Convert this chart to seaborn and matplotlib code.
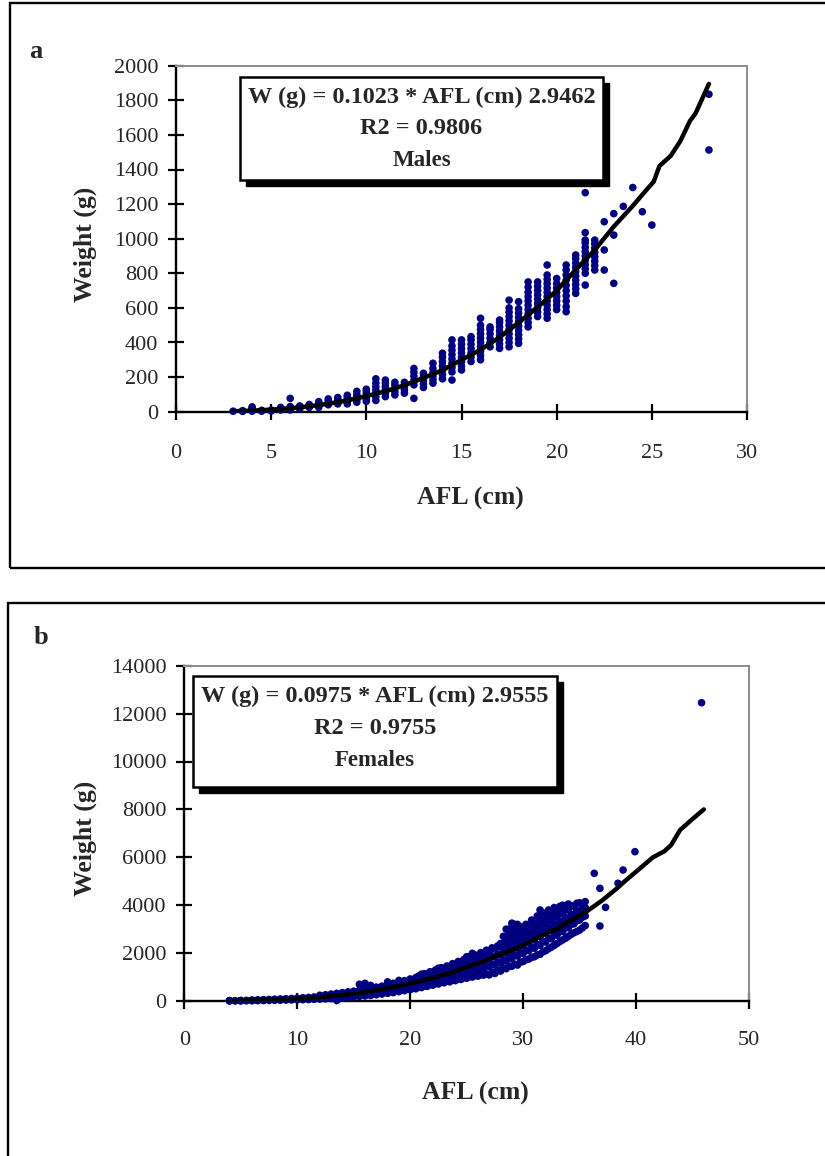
import matplotlib
matplotlib.use("Agg")
import matplotlib.pyplot as plt
from matplotlib.patches import Rectangle
import seaborn as sns
import pandas as pd

# ---------------- data ----------------
male_afl = [3, 3.5, 4, 4.5, 5, 5.5, 6, 6.5, 7, 7.5, 8, 8.5, 9, 9.5, 10, 10.5, 11, 11.5,
            12, 12.5, 13, 13.5, 14, 14.5, 15, 15.5, 16, 16.5, 17, 17.5, 18, 18.5, 19,
            19.5, 20, 20.5, 21, 21.5, 22, 22.5, 23, 23.5, 24, 24.5, 25, 28]
male_weights = [
    [3], [2, 6], [3, 12, 22, 28], [3, 8], [4, 10], [10, 17, 25], [10, 20, 30, 77],
    [15, 24, 33], [25, 33, 42], [25, 35, 47, 58], [40, 50, 62, 74], [45, 55, 68, 82],
    [45, 58, 72, 85, 95], [55, 70, 85, 100, 118], [60, 75, 90, 105, 120, 130],
    [65, 85, 105, 125, 145, 165, 190], [87, 105, 125, 145, 165, 183],
    [97, 115, 135, 155, 170], [107, 125, 145, 170], [77, 155, 180, 205, 228, 250],
    [140, 160, 180, 200, 222], [165, 185, 205, 225, 250, 280],
    [190, 215, 240, 265, 290, 315, 338], [183, 230, 255, 280, 305, 330, 355, 380, 415],
    [241, 265, 290, 315, 340, 365, 390, 415], [290, 315, 340, 365, 390, 415, 434],
    [300, 325, 350, 375, 400, 425, 450, 475, 500, 540], [375, 400, 425, 450, 475, 490],
    [366, 390, 415, 440, 465, 490, 515, 530],
    [375, 400, 425, 450, 475, 500, 525, 550, 575, 600, 645],
    [395, 420, 445, 470, 495, 520, 545, 570, 595, 636],
    [490, 515, 540, 565, 590, 615, 640, 665, 690, 720, 750],
    [550, 575, 600, 625, 650, 675, 700, 725, 750],
    [540, 565, 590, 615, 640, 665, 690, 715, 740, 765, 790, 848],
    [590, 615, 640, 665, 690, 715, 740, 770],
    [578, 607, 640, 670, 700, 730, 760, 790, 820, 848],
    [684, 710, 735, 760, 785, 810, 835, 860, 885, 906],
    [732, 800, 825, 850, 875, 900, 925, 950, 975, 992, 1035, 1266],
    [819, 845, 870, 895, 920, 945, 970, 992], [819, 935, 1098], [742, 1021, 1145],
    [1187], [1296], [1156], [1079], [1513, 1835]]

male_trend_afl = [3, 4, 5, 6, 7, 8, 9, 10, 11, 12, 13, 14, 15, 16, 17, 18, 19, 20, 21, 22,
                  23, 24, 24.7, 25.1, 25.4, 26, 26.5, 27, 27.3, 28]
male_trend_wt = [3, 6, 12, 20, 31, 46, 65, 90, 118, 153, 195, 240, 300, 358, 430, 515, 605,
                 700, 820, 935, 1070, 1190, 1280, 1330, 1420, 1480, 1565, 1680, 1725, 1895]

female_afl = [4, 4.5, 5, 5.5, 6, 6.5, 7, 7.5, 8, 8.5, 9, 9.5, 10, 10.5, 11, 11.5, 12, 12.5,
              13, 13.5, 14, 14.5, 15, 15.5, 16, 16.5, 17, 17.5, 18, 18.5, 19, 19.5, 20, 20.5,
              21, 21.5, 22, 22.5, 23, 23.5, 24, 24.5, 25, 25.5, 26, 26.5, 27, 27.5, 28, 28.5,
              29, 29.5, 30, 30.5, 31, 31.5, 32, 32.5, 33, 33.5, 34, 34.5, 35, 35.5, 36.3,
              36.8, 37.3, 38.4, 38.85, 39.9, 45.8]
female_weights = [
    [0, 10, 20], [5, 15], [5, 15, 25], [10, 25], [10, 25, 40], [15, 30, 50], [20, 35, 55],
    [25, 45, 65], [30, 50, 75], [35, 60, 85], [40, 65, 95], [45, 75, 105], [50, 85, 120],
    [55, 95, 135], [60, 105, 150], [70, 120, 170], [80, 135, 190, 240],
    [90, 150, 210, 260], [100, 165, 230, 290], [20, 120, 185, 250, 320],
    [130, 205, 275, 350], [150, 225, 300, 380], [170, 250, 330, 410],
    [190, 275, 360, 450, 700], [210, 300, 400, 500, 620, 740], [230, 330, 430, 540, 650],
    [260, 360, 470, 580], [290, 400, 510, 620], [320, 440, 560, 680, 800],
    [350, 480, 610, 740], [390, 520, 660, 800, 860], [430, 570, 710, 850],
    [470, 620, 770, 920], [510, 670, 830, 980], [560, 720, 890, 1050, 1120],
    [610, 780, 950, 1120], [660, 840, 1020, 1200], [710, 900, 1090, 1280, 1370],
    [760, 960, 1160, 1360], [800, 1020, 1230, 1440], [850, 1080, 1300, 1520],
    [900, 1140, 1380, 1620], [950, 1200, 1450, 1700, 1850],
    [1000, 1260, 1520, 1780, 1990], [1040, 1320, 1600, 1880], [1080, 1380, 1680, 1980],
    [1090, 1440, 1760, 2080], [1150, 1500, 1840, 2180], [1250, 1580, 1920, 2260, 2400],
    [1350, 1680, 2010, 2340, 2680, 3000], [1450, 1780, 2110, 2440, 2770, 3100, 3250],
    [1500, 1880, 2210, 2540, 2870, 3200], [1650, 1980, 2320, 2660, 3000],
    [1750, 2100, 2440, 2780, 3120], [1850, 2200, 2560, 2920, 3280],
    [1950, 2320, 2690, 3060, 3430, 3800], [2100, 2460, 2830, 3200, 3560],
    [2250, 2600, 2970, 3340, 3700], [2400, 2750, 3120, 3490, 3850],
    [2550, 2900, 3270, 3640, 4000], [2700, 3060, 3430, 3800, 4050],
    [2850, 3220, 3590, 3950], [2960, 3380, 3750, 4100], [3150, 3550, 3900, 4150],
    [5330], [3130, 4705], [3910], [4915], [5470], [6235], [12455]]

# second, interleaved set of female lengths (quarter-cm positions)
female_afl_q = [20.25, 20.75, 21.25, 21.75, 22.25, 22.75, 23.25, 23.75, 24.25, 24.75,
                25.25, 25.75, 26.25, 26.75, 27.25, 27.75, 28.25, 28.75, 29.25, 29.75,
                30.25, 30.75, 31.25, 31.75, 32.25, 32.75, 33.25, 33.75, 34.25, 34.75, 35.25]
female_weights_q = [
    [540, 700, 860], [590, 760, 930, 1040], [640, 810, 980, 1140], [690, 870, 1050, 1220],
    [740, 930, 1120, 1300], [790, 990, 1190, 1390], [830, 1050, 1260, 1460],
    [880, 1110, 1340, 1560], [930, 1170, 1410, 1650], [980, 1230, 1480, 1730],
    [1020, 1290, 1560, 1830], [1060, 1350, 1640, 1920], [1100, 1410, 1720, 2020],
    [1130, 1470, 1800, 2120], [1200, 1540, 1880, 2220], [1280, 1620, 1960, 2300],
    [1380, 1720, 2060, 2400, 2700], [1460, 1820, 2170, 2520, 2870],
    [1540, 1920, 2280, 2640, 2990, 3200], [1620, 2020, 2400, 2780, 3100],
    [1720, 2130, 2520, 2900, 3200], [1820, 2250, 2650, 3040, 3380],
    [1920, 2360, 2780, 3180, 3550], [2050, 2480, 2910, 3320, 3680],
    [2180, 2620, 3050, 3460, 3800], [2320, 2760, 3190, 3600, 3900],
    [2480, 2900, 3330, 3740, 3950], [2620, 3060, 3480, 3880], [2780, 3200, 3620, 3980],
    [2900, 3350, 3760, 4080], [3050, 3500, 3880]]

female_trend_afl = [4, 6, 8, 10, 12, 14, 16, 18, 20, 22, 23.5, 25, 26.5, 28, 29.4, 30,
                    31, 32.4, 33, 34, 35.6, 37, 38.3, 39, 40, 41.5, 42.5, 43.1, 43.9, 45, 46]
female_trend_wt = [6, 20, 45, 90, 160, 250, 370, 540, 730, 970, 1160, 1420, 1650, 1960,
                   2200, 2320, 2580, 2900, 3000, 3300, 3730, 4200, 4700, 5000, 5400, 6000,
                   6250, 6510, 7140, 7600, 8000]

y_ticks_a = [0, 200, 400, 600, 800, 1000, 1200, 1400, 1600, 1800, 2000]
x_ticks_a = [0, 5, 10, 15, 20, 25, 30]
y_ticks_b = [0, 2000, 4000, 6000, 8000, 10000, 12000, 14000]
x_ticks_b = [0, 10, 20, 30, 40, 50]

eq_a = ["W (g) = 0.1023 * AFL (cm) 2.9462", "R2 = 0.9806", "Males"]
eq_b = ["W (g) = 0.0975 * AFL (cm) 2.9555", "R2 = 0.9755", "Females"]

# ---------------- build tables ----------------
def expand(xs, groups):
    rows = [(x, w) for x, g in zip(xs, groups) for w in g]
    return pd.DataFrame(rows, columns=["AFL", "Weight"])

males = expand(male_afl, male_weights)
females = pd.concat([expand(female_afl, female_weights),
                     expand(female_afl_q, female_weights_q)], ignore_index=True)
male_trend = pd.DataFrame({"AFL": male_trend_afl, "Weight": male_trend_wt})
female_trend = pd.DataFrame({"AFL": female_trend_afl, "Weight": female_trend_wt})

# ---------------- style ----------------
sns.set_style("white")
plt.rcParams["font.family"] = ["Liberation Serif", "DejaVu Serif"]

W, H = 825, 1156
fig = plt.figure(figsize=(W / 100, H / 100), dpi=100)


def fx(px):
    return px / W


def fy(py):
    return 1 - py / H


NAVY = "#000080"


def style_axes(ax, xticks, yticks, xpad):
    ax.set_xlim(xticks[0], xticks[-1])
    ax.set_ylim(yticks[0], yticks[-1])
    ax.set_xticks(xticks)
    ax.set_yticks(yticks)
    ax.set_xticklabels([str(t) for t in xticks])
    ax.set_yticklabels([str(t) for t in yticks])
    for s in ["left", "bottom"]:
        ax.spines[s].set_color("black")
        ax.spines[s].set_linewidth(1.7)
    for s in ["top", "right"]:
        ax.spines[s].set_color("#8c8c8c")
        ax.spines[s].set_linewidth(1.4)
    ax.tick_params(axis="both", direction="inout", length=11.5, width=1.6,
                   color="black", labelsize=16, left=True, bottom=True)
    ax.tick_params(axis="y", pad=7.0)
    ax.tick_params(axis="x", pad=xpad)
    ax.grid(False)


def panel(ax, data, trend, xticks, yticks, xpad, ylab_x, xlab_y, letter_xy, box, lines):
    sns.scatterplot(data=data, x="AFL", y="Weight", ax=ax, color=NAVY, s=30,
                    edgecolor="none", linewidth=0, clip_on=False, zorder=3)
    sns.lineplot(data=trend, x="AFL", y="Weight", ax=ax, color="black", linewidth=3.2,
                 sort=False, estimator=None, zorder=4)
    style_axes(ax, xticks, yticks, xpad)
    ax.set_xlabel("AFL (cm)", fontsize=18.5, fontweight="bold", va="center")
    ax.set_ylabel("Weight (g)", fontsize=18.5, fontweight="bold", va="center")
    ax.yaxis.set_label_coords(ylab_x, 0.485)
    ax.xaxis.set_label_coords(0.515, xlab_y)
    fig.text(fx(letter_xy[0]), fy(letter_xy[1]), letter_xy[2], fontsize=19,
             fontweight="bold", ha="left", va="center")
    x0, y0, x1, y1 = box
    off = 6
    fig.add_artist(Rectangle((fx(x0 + off), fy(y1 + off)), fx(x1) - fx(x0),
                             fy(y0) - fy(y1), transform=fig.transFigure,
                             facecolor="black", edgecolor="black", zorder=10))
    fig.add_artist(Rectangle((fx(x0), fy(y1)), fx(x1) - fx(x0), fy(y0) - fy(y1),
                             transform=fig.transFigure, facecolor="white",
                             edgecolor="black", linewidth=1.8, zorder=11))
    cx = (x0 + x1) / 2
    ys = [y0 + 20, y0 + 52, y0 + 84]
    sizes = [17.5, 17.5, 16.5]
    for txt, yy, fs in zip(lines, ys, sizes):
        fig.text(fx(cx), fy(yy), txt, fontsize=fs, fontweight="bold",
                 ha="center", va="center", zorder=12)


ax_a = fig.add_axes([fx(176), fy(411.7), fx(747) - fx(176), fy(65.7) - fy(411.7)])
ax_b = fig.add_axes([fx(184.3), fy(1001), fx(749) - fx(184.3), fy(665.7) - fy(1001)])

panel(ax_a, males, male_trend, x_ticks_a, y_ticks_a, 17.5, -0.159, -0.252,
      (29, 51, "a"), (240, 77, 603, 180), eq_a)
panel(ax_b, females, female_trend, x_ticks_b, y_ticks_b, 16, -0.176, -0.276,
      (34, 638, "b"), (193, 676, 557, 787), eq_b)

# panel frames
fig.add_artist(Rectangle((fx(10), fy(568)), 1.2, fy(3) - fy(568), transform=fig.transFigure,
                         fill=False, edgecolor="black", linewidth=1.7))
fig.add_artist(Rectangle((fx(8), -0.1), 1.2, fy(603) + 0.1, transform=fig.transFigure,
                         fill=False, edgecolor="black", linewidth=1.7))

fig.savefig("out.png", dpi=100, facecolor="white")
